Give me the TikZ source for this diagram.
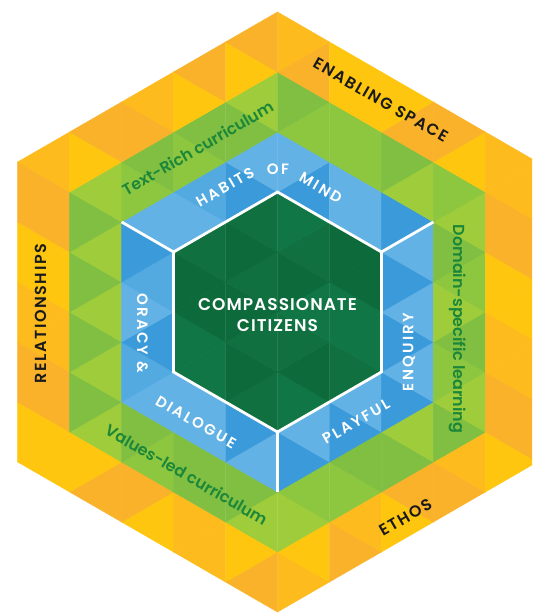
\documentclass[tikz,border=0pt]{standalone}
\usepackage{fontspec}
\setmainfont{Poppins}[BoldFont={Poppins SemiBold}]
\newfontfamily\outercaps{Poppins}[LetterSpace=10, BoldFont={Poppins SemiBold}]
\newfontfamily\innercaps{Poppins}[LetterSpace=15, BoldFont={Poppins SemiBold}]
\newfontfamily\corecaps{Poppins}[LetterSpace=6, BoldFont={Poppins SemiBold}]
% band colours, three shades each
\definecolor{band1s0}{HTML}{117645}
\definecolor{band1s1}{HTML}{0D6A3B}
\definecolor{band1s2}{HTML}{107040}
\definecolor{band2s0}{HTML}{52AAE1}
\definecolor{band2s1}{HTML}{3A9ADA}
\definecolor{band2s2}{HTML}{62B2E5}
\definecolor{band3s0}{HTML}{8DC63F}
\definecolor{band3s1}{HTML}{80BF42}
\definecolor{band3s2}{HTML}{9ECC3B}
\definecolor{band4s0}{HTML}{FDBB1E}
\definecolor{band4s1}{HTML}{FFC60F}
\definecolor{band4s2}{HTML}{FAB22A}
\definecolor{pathgreen}{HTML}{1C8739}
\definecolor{inkblack}{HTML}{1A1A1A}
\tikzset{
  outertext/.style={text=inkblack, font=\fontsize{16}{19}\outercaps\bfseries, inner sep=0pt},
  midtext/.style={text=pathgreen, font=\fontsize{16}{19}\selectfont\bfseries, inner sep=0pt},
  innertext/.style={text=white, font=\fontsize{15}{18}\innercaps\bfseries, inner sep=0pt},
  hexline/.style={white, line width=2.8pt, line join=miter}
}
\begin{document}
\begin{tikzpicture}[x=60pt, y=60pt]
    \useasboundingbox (-4.625,-5.05) rectangle (4.242,5.2);
    \clip (-4.625,-5.05) rectangle (4.242,5.2);
    % triangle grid, coloured by hexagonal band
    \foreach \k in {-5,...,4} {
      \pgfmathsetmacro{\o}{mod(abs(\k),2)/2}
      \pgfmathsetmacro{\xl}{\k*0.866025}
      \pgfmathsetmacro{\xr}{(\k+1)*0.866025}
      \foreach \m in {-6,...,5} {
        \foreach \t in {0,1} {
          \pgfmathsetmacro{\yb}{\m+\o}
          \pgfmathsetmacro{\xc}{(\k+(1+\t)/3)*0.866025}
          \pgfmathsetmacro{\yc}{\yb+0.5+\t/2}
          \pgfmathsetmacro{\n}{max(abs(\xc)/0.866025, abs(\yc)+abs(\xc)/1.732051)}
          \pgfmathtruncatemacro{\lay}{max(floor(\n),1)}
          \pgfmathtruncatemacro{\h}{mod(abs(3*\k+5*\m+7*\t+2*\k*\m+61),3)}
          \ifnum\lay<5
            \ifnum\t=0
              \filldraw[fill=band\lay s\h, draw=band\lay s\h, line width=0.4pt]
                (\xl,\yb) -- (\xl,\yb+1) -- (\xr,\yb+0.5) -- cycle;
            \else
              \filldraw[fill=band\lay s\h, draw=band\lay s\h, line width=0.4pt]
                (\xr,\yb+0.5) -- (\xr,\yb+1.5) -- (\xl,\yb+1) -- cycle;
            \fi
          \fi
        }
      }
    }
    % corners of the core and of the blue band
    \foreach \a in {30,90,...,330} {
      \coordinate (core\a) at (\a:2);
      \coordinate (blue\a) at (\a:3);
    }
    % white outline of the core
    \draw[hexline] (core30) -- (core90) -- (core150) -- (core210) -- (core270) -- (core330) -- cycle;
    \draw[hexline] (core150) -- (blue150);
    \draw[hexline] (core30) -- (blue30);
    \draw[hexline] (core270) -- (blue270);
    % core
    \node[innertext, align=center, font=\fontsize{17}{21}\corecaps\bfseries] (citizens) at (0,-0.05) {COMPASSIONATE\\CITIZENS};
    % blue band
    \node[innertext, rotate=30] (habits) at (-0.875,2.083) {HABITS};
    \node[innertext] (of) at (0.008,2.377) {OF};
    \node[innertext, rotate=-30] (mind) at (0.72,2.067) {MIND};
    \node[innertext, rotate=-90] (oracy) at (-2.25,-0.35) {ORACY \&};
    \node[innertext, rotate=90] (enquiry) at (2.19,-0.667) {ENQUIRY};
    \node[innertext, rotate=-30] (dialogue) at (-1.36,-1.833) {DIALOGUE};
    \node[innertext, rotate=30] (playful) at (1.31,-1.827) {PLAYFUL};
    % green band
    \node[midtext, rotate=30] (textrich) at (-1.333,2.733) {Text-Rich curriculum};
    \node[midtext, rotate=-90] (domain) at (3.008,-0.283) {Domain-specific learning};
    \node[midtext, rotate=-30] (values) at (-1.515,-2.708) {Values-led curriculum};
    % outer band
    \node[outertext, rotate=-30] (enabling) at (1.72,3.53) {ENABLING SPACE};
    \node[outertext, rotate=90] (relations) at (-3.947,-0.03) {RELATIONSHIPS};
    \node[outertext, rotate=30] (ethos) at (2.133,-3.427) {ETHOS};
\end{tikzpicture}
\end{document}
